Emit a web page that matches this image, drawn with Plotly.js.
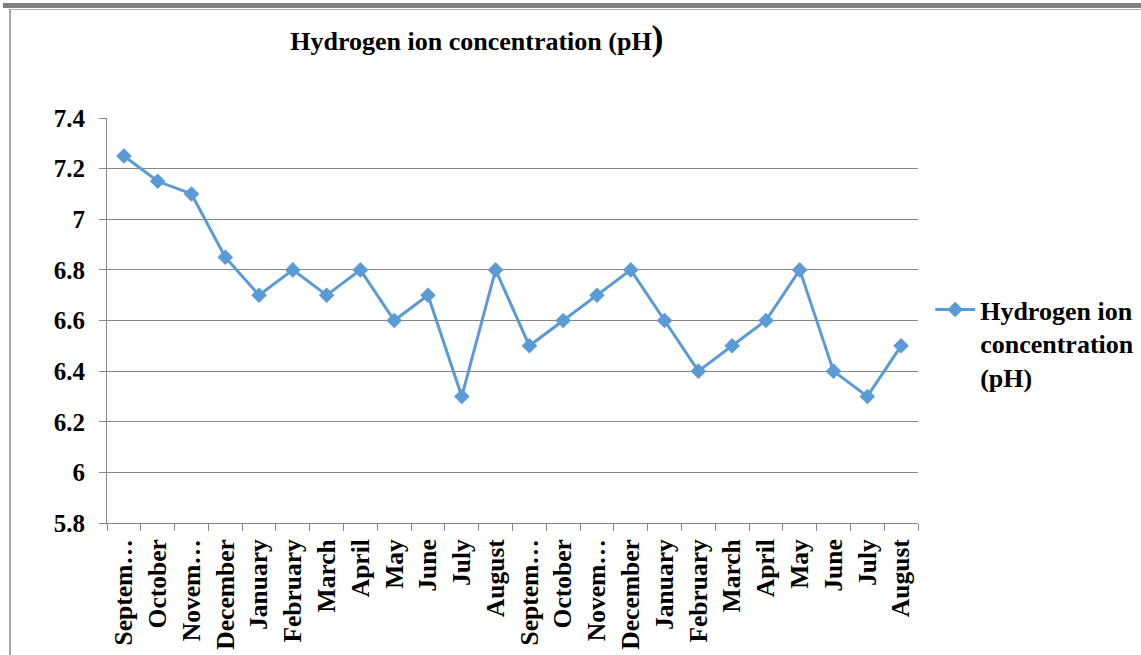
<!DOCTYPE html>
<html>
<head>
<meta charset="utf-8">
<script src="https://cdn.plot.ly/plotly-3.0.1.min.js"></script>
<style>
  body { margin: 0; background: #fff; }
  #wrap { position: relative; width: 1141px; height: 655px; overflow: hidden; }
  #chart { position: absolute; left: 0; top: 0; width: 1141px; height: 655px; }
  .band { position: absolute; left: 3px; top: 3px; width: 1138px; height: 5px; background: #808080; }
  .band2 { position: absolute; left: 10px; top: 9px; width: 1131px; height: 1px; background: #b4b4b4; }
  .side { position: absolute; left: 9px; top: 9px; width: 2px; height: 646px; background: #a6a6a6; }
</style>
</head>
<body>
<div id="wrap">
  <div id="chart"></div>
  <div class="band"></div>
  <div class="band2"></div>
  <div class="side"></div>
</div>
<script>
// months, two years Sep -> Aug
const months = ["Septem…", "October", "Novem…", "December", "January", "February",
  "March", "April", "May", "June", "July", "August",
  "Septem…", "October", "Novem…", "December", "January", "February",
  "March", "April", "May", "June", "July", "August"];
const ph = [7.25, 7.15, 7.1, 6.85, 6.7, 6.8, 6.7, 6.8, 6.6, 6.7, 6.3, 6.8,
  6.5, 6.6, 6.7, 6.8, 6.6, 6.4, 6.5, 6.6, 6.8, 6.4, 6.3, 6.5];
const yTicks = [5.8, 6, 6.2, 6.4, 6.6, 6.8, 7, 7.2, 7.4];
const yTickText = ["5.8", "6", "6.2", "6.4", "6.6", "6.8", "7", "7.2", "7.4"];

const idx = months.map((m, i) => i);
const serif = "Liberation Serif";
const blue = "#5B9BD5";

const traces = [{
  type: "scatter",
  mode: "lines+markers",
  x: idx,
  y: ph,
  name: "Hydrogen ion<br>concentration<br>(pH)",
  line: { color: blue, width: 3 },
  marker: { symbol: "diamond", size: 12, color: blue }
}];

const layout = {
  width: 1141,
  height: 655,
  paper_bgcolor: "#fff",
  plot_bgcolor: "#fff",
  margin: { l: 107, r: 223, t: 118, b: 132, autoexpand: false },
  font: { family: serif, color: "#000", weight: "bold" },
  title: {
    text: "Hydrogen ion concentration (pH<span style='font-size:36px'>)</span>",
    font: { family: serif, size: 26, color: "#000", weight: "bold" },
    x: 0.418, xanchor: "center",
    y: 0.937, yanchor: "middle"
  },
  xaxis: {
    range: [-0.5, 23.5],
    tickvals: idx,
    ticktext: months,
    tickangle: -90,
    tickfont: { family: serif, size: 25.5, color: "#000", weight: "bold" },
    ticks: "",
    ticklabelstandoff: 5,
    automargin: false,
    showgrid: false,
    zeroline: false,
    showline: true,
    linecolor: "#868686",
    linewidth: 1,
    minor: { tick0: -0.5, dtick: 1, ticks: "outside", ticklen: 7, tickcolor: "#868686", showgrid: false }
  },
  yaxis: {
    range: [5.8, 7.4],
    tickvals: yTicks,
    ticktext: yTickText,
    tickfont: { family: serif, size: 25, color: "#000", weight: "bold" },
    ticks: "outside",
    ticklen: 7,
    tickcolor: "#868686",
    ticklabelstandoff: 9,
    automargin: false,
    showgrid: true,
    gridcolor: "#868686",
    gridwidth: 1,
    zeroline: false,
    showline: true,
    linecolor: "#868686",
    linewidth: 1
  },
  showlegend: true,
  legend: {
    x: 1.015, xanchor: "left",
    y: 0.585, yanchor: "top",
    valign: "top",
    font: { family: serif, size: 26, color: "#000", weight: "bold" },
    itemwidth: 40,
    bgcolor: "rgba(0,0,0,0)"
  }
};

Plotly.newPlot("chart", traces, layout, { displayModeBar: false, staticPlot: true });
</script>
</body>
</html>
